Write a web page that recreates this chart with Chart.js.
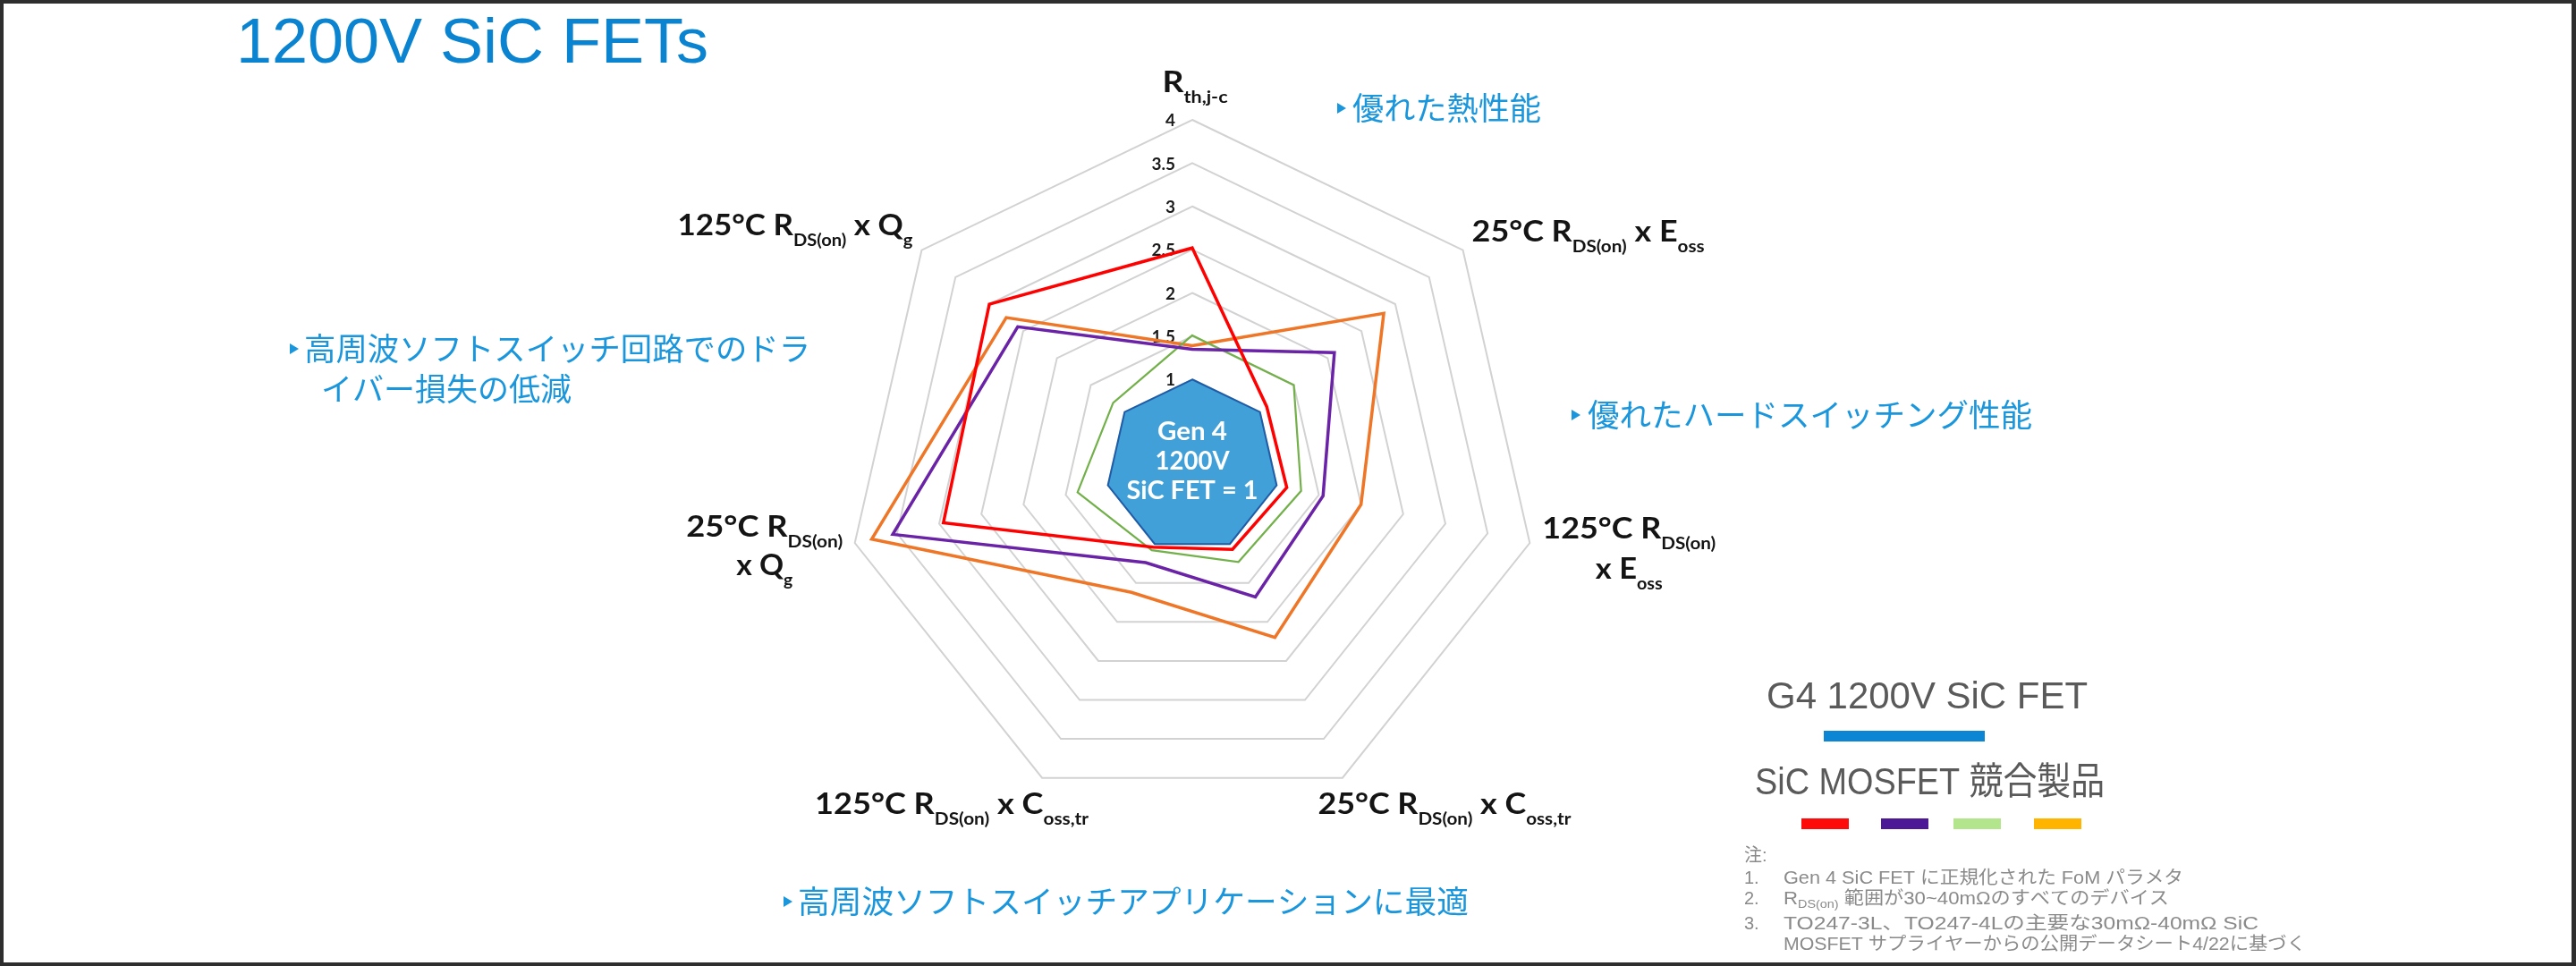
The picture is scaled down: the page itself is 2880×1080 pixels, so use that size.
<!DOCTYPE html>
<html>
<head>
<meta charset="utf-8">
<script src="https://cdn.jsdelivr.net/npm/chart.js@4/dist/chart.umd.min.js"></script>
<style>
html,body{margin:0;padding:0;background:#ffffff;}
canvas{display:block;}
</style>
</head>
<body>
<canvas id="c" width="2880" height="1080"></canvas>
<script>
// ---------- DATA ----------
const categories = [
  'R_{th,j-c}',
  '25°C R_{DS(on)} x E_{oss}',
  '125°C R_{DS(on)}\nx E_{oss}',
  '25°C R_{DS(on)} x C_{oss,tr}',
  '125°C R_{DS(on)} x C_{oss,tr}',
  '25°C R_{DS(on)}\nx Q_{g}',
  '125°C R_{DS(on)} x Q_{g}'
];
const tickValues = [1, 1.5, 2, 2.5, 3, 3.5, 4];
const gen4Values    = [1, 1, 1, 1, 1, 1, 1];
const competitorRed    = [2.52, 1.10, 1.12, 1.07, 1.04, 2.95, 3.00];
const competitorPurple = [1.35, 2.10, 1.55, 1.68, 1.24, 3.55, 2.58];
const competitorGreen  = [1.51, 1.50, 1.29, 1.23, 1.08, 1.36, 1.17];
const competitorOrange = [1.39, 2.83, 2.00, 2.20, 1.62, 3.80, 2.75];
const seriesNames = ['SiC MOSFET A', 'SiC MOSFET B', 'SiC MOSFET C', 'SiC MOSFET D', 'Gen 4 1200V SiC FET'];
const titleText = '1200V SiC FETs';
const centerText = ['Gen 4', '1200V', 'SiC FET = 1'];
const annotations = [
  '優れた熱性能',
  '優れたハードスイッチング性能',
  '高周波ソフトスイッチ回路でのドラ',
  'イバー損失の低減',
  '高周波ソフトスイッチアプリケーションに最適'
];
const legendTitles = ['G4 1200V SiC FET', 'SiC MOSFET 競合製品'];
const noteHeader = '注:';
const noteNumbers = ['1.', '2.', '3.', ''];
const noteLines = [
  'Gen 4 SiC FET に正規化された FoM パラメタ',
  'R_{DS(on)} 範囲が30~40mΩのすべてのデバイス',
  'TO247-3L、TO247-4Lの主要な30mΩ-40mΩ SiC',
  'MOSFET サプライヤーからの公開データシート4/22に基づく'
];

// ---------- HELPERS ----------
function richParts(str){
  const parts=[]; const re=/_\{([^}]*)\}/g; let last=0, m;
  while((m=re.exec(str))){
    if(m.index>last) parts.push({t:str.slice(last,m.index),sub:false});
    parts.push({t:m[1],sub:true}); last=re.lastIndex;
  }
  if(last<str.length) parts.push({t:str.slice(last),sub:false});
  return parts;
}
function richWidth(ctx, str, mainFont, subFont){
  let w=0; richParts(str).forEach(p=>{ctx.font=p.sub?subFont:mainFont; w+=ctx.measureText(p.t).width;}); return w;
}
function richFit(ctx, str, left, base, mainFont, subFont, subDy, width){
  const parts=richParts(str); let total=0;
  parts.forEach(p=>{ctx.font=p.sub?subFont:mainFont; p.w=ctx.measureText(p.t).width; total+=p.w;});
  const s = width ? width/total : 1;
  ctx.save(); ctx.translate(left, base); ctx.scale(s,1);
  ctx.textAlign='left'; ctx.textBaseline='alphabetic';
  let x=0; parts.forEach(p=>{ctx.font=p.sub?subFont:mainFont; ctx.fillText(p.t, x, p.sub?subDy:0); x+=p.w;});
  ctx.restore();
}
function fitText(ctx, text, left, y, font, width, baseline){
  ctx.save(); ctx.font=font; const m=ctx.measureText(text).width;
  ctx.translate(left, y); ctx.scale(width? width/m : 1, 1);
  ctx.textAlign='left'; ctx.textBaseline=baseline||'alphabetic';
  ctx.fillText(text,0,0); ctx.restore();
}
function bullet(ctx, x, cy, color){
  ctx.save(); ctx.fillStyle=color; ctx.beginPath();
  ctx.moveTo(x, cy-6); ctx.lineTo(x+10, cy); ctx.lineTo(x, cy+6); ctx.closePath(); ctx.fill(); ctx.restore();
}

// ---------- LAYOUT (styles / positions) ----------
const labelMain = 'bold 33px Lato, "DejaVu Sans"';
const labelSub  = 'bold 19px Lato, "DejaVu Sans"';
const labelSpecs = [
  {align:'center', dx:3,    dy:-31, gap:45, widths:[73]},
  {align:'left',   dx:10,   dy:-10, gap:45, widths:[260]},
  {align:'center', dx:111,  dy:-5,  gap:45, widths:[194,75]},
  {align:'center', dx:114,  dy:40,  gap:45, widths:[283]},
  {align:'center', dx:-101, dy:40,  gap:45, widths:[306]},
  {align:'center', dx:-101, dy:-7,  gap:43, widths:[175,63]},
  {align:'right',  dx:-10,  dy:-17, gap:45, widths:[263]}
];
const annoColor = '#1a96dd';
const annoSpecs = [
  {x:1512, cy:121, w:211, tri:1495},
  {x:1775, cy:464, w:497, tri:1757},
  {x:340,  cy:390, w:566, tri:324},
  {x:359,  cy:435, w:280, tri:null},
  {x:892,  cy:1008, w:750, tri:876}
];
const centerSpecs = [{dy:-29, w:78}, {dy:4, w:83}, {dy:37, w:147}];

const deco = {
  id:'deco',
  beforeDatasetsDraw(chart){
    const ctx=chart.ctx, r=chart.scales.r;
    ctx.save();
    ctx.font='bold 19px Lato, "DejaVu Sans"';
    ctx.fillStyle='#1a1a1a'; ctx.textAlign='right'; ctx.textBaseline='middle';
    tickValues.forEach(v=>{
      const d=r.getDistanceFromCenterForValue(v);
      ctx.fillText(String(v), r.xCenter-19, r.yCenter-d+1);
    });
    ctx.restore();
  },
  afterDatasetsDraw(chart){
    const ctx=chart.ctx, r=chart.scales.r;
    ctx.save();
    ctx.fillStyle='#ffffff';
    centerText.forEach((t,i)=>{
      const s=centerSpecs[i];
      fitText(ctx, t, r.xCenter-s.w/2, r.yCenter+s.dy, 'bold 28px Lato, "DejaVu Sans"', s.w);
    });
    ctx.restore();
  },
  afterDraw(chart){
    const ctx=chart.ctx, r=chart.scales.r;
    ctx.save();
    // axis labels
    ctx.fillStyle='#141414';
    categories.forEach((lab,i)=>{
      const spec=labelSpecs[i];
      const p=r.getPointPosition(i, r.drawingArea);
      const lines=lab.split('\n');
      lines.forEach((ln,k)=>{
        const w=spec.widths[k] || richWidth(ctx, ln, labelMain, labelSub);
        const ax=p.x+spec.dx;
        const left = spec.align==='center' ? ax-w/2 : spec.align==='right' ? ax-w : ax;
        richFit(ctx, ln, left, p.y+spec.dy+k*spec.gap, labelMain, labelSub, 12, w);
      });
    });
    // title
    ctx.fillStyle='#0a84d0';
    fitText(ctx, titleText, 264, 70, '70px "Liberation Sans", Arial', 528);
    // annotations
    annotations.forEach((t,i)=>{
      const s=annoSpecs[i];
      if(s.tri!==null) bullet(ctx, s.tri, s.cy, annoColor);
      ctx.fillStyle=annoColor;
      fitText(ctx, t, s.x, s.cy, '35px "Noto Sans CJK JP"', s.w, 'middle');
    });
    // legend
    ctx.fillStyle='#5a5a5a';
    fitText(ctx, legendTitles[0], 1975, 792, '42px "Liberation Sans"', 359);
    ctx.fillStyle='#0a86d4'; ctx.fillRect(2039, 817, 180, 12);
    ctx.fillStyle='#5a5a5a';
    fitText(ctx, legendTitles[1], 1962, 888, '42px "Liberation Sans", "Noto Sans CJK JP"', 391);
    const sw=[[2014,'#ff0a0a'],[2103,'#4d1896'],[2184,'#b3e58c'],[2274,'#ffb400']];
    sw.forEach(s=>{ctx.fillStyle=s[1]; ctx.fillRect(s[0], 915, 53, 12);});
    // notes
    ctx.fillStyle='#8a8a8a';
    const nf='20px "Liberation Sans", "Noto Sans CJK JP"';
    const nsf='13px "Liberation Sans", "Noto Sans CJK JP"';
    fitText(ctx, noteHeader, 1950, 963, nf, 0);
    const nb=[988,1011,1039,1062], nw=[447,431,531,584];
    noteLines.forEach((t,i)=>{
      if(noteNumbers[i]) fitText(ctx, noteNumbers[i], 1950, nb[i], nf, 0);
      richFit(ctx, t, 1994, nb[i], nf, nsf, 4, nw[i]);
    });
    // frame
    ctx.fillStyle='#2e2e2e';
    ctx.fillRect(0,0,2880,4); ctx.fillRect(0,1076,2880,4);
    ctx.fillRect(0,0,4,1080); ctx.fillRect(2875,0,5,1080);
    ctx.restore();
  }
};

const ctx=document.getElementById('c').getContext('2d');
new Chart(ctx,{
  type:'radar',
  data:{
    labels:categories,
    datasets:[
      {label:seriesNames[0], data:competitorRed,    borderColor:'#ff0000', borderWidth:3.5, fill:false, pointRadius:0},
      {label:seriesNames[1], data:competitorPurple, borderColor:'#6a22a6', borderWidth:3.5, fill:false, pointRadius:0},
      {label:seriesNames[2], data:competitorGreen,  borderColor:'#72b04a', borderWidth:2.2, fill:false, pointRadius:0},
      {label:seriesNames[3], data:competitorOrange, borderColor:'#ee7626', borderWidth:3.5, fill:false, pointRadius:0},
      {label:seriesNames[4], data:gen4Values, borderColor:'#1f5ca8', borderWidth:2, backgroundColor:'#41a0d8', fill:true, pointRadius:0}
    ]
  },
  options:{
    responsive:false, animation:false, devicePixelRatio:1,
    layout:{padding:{left:946, top:134, right:1160, bottom:172}},
    plugins:{legend:{display:false}, tooltip:{enabled:false}, title:{display:false}},
    elements:{line:{tension:0, borderJoinStyle:'miter'}, point:{radius:0}},
    scales:{
      r:{
        min:0, max:4,
        ticks:{stepSize:0.5, display:false},
        grid:{color:'#d2d2d2', lineWidth:2, circular:false},
        angleLines:{display:false},
        pointLabels:{display:false}
      }
    }
  },
  plugins:[deco]
});
</script>
</body>
</html>
